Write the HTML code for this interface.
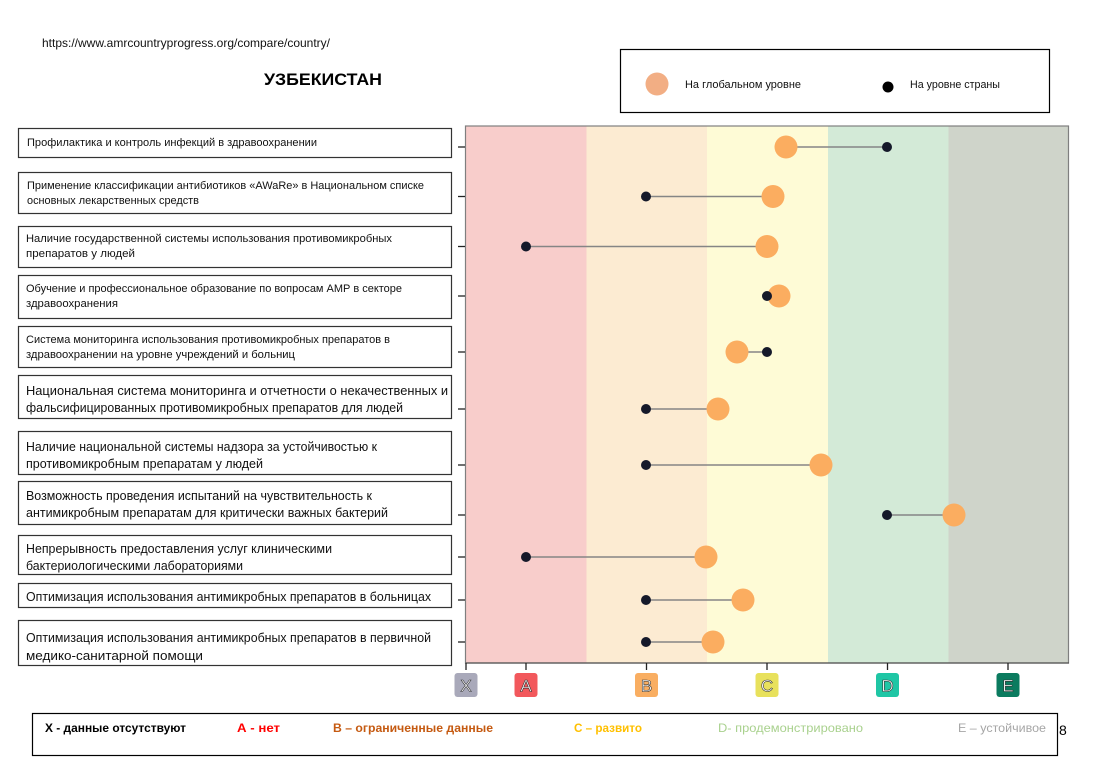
<!DOCTYPE html>
<html><head><meta charset="utf-8"><style>
html,body{margin:0;padding:0;background:#fff;}
svg{display:block;}
text{font-family:"Liberation Sans","DejaVu Sans",sans-serif;}
</style></head><body>
<svg width="1108" height="768" viewBox="0 0 1108 768" xmlns="http://www.w3.org/2000/svg">
<rect x="0" y="0" width="1108" height="768" fill="#fff"/>
<text x="42" y="47" font-size="12" fill="#111" textLength="288" lengthAdjust="spacingAndGlyphs">https://www.amrcountryprogress.org/compare/country/</text>
<text x="264" y="85" font-size="17" font-weight="bold" fill="#000" textLength="118" lengthAdjust="spacingAndGlyphs">УЗБЕКИСТАН</text>

<!-- top legend -->
<rect x="620.5" y="49.5" width="429" height="63" fill="#fff" stroke="#000" stroke-width="1.2"/>
<circle cx="657" cy="84" r="11.5" fill="#F2AE84"/>
<text x="685" y="88" font-size="11" fill="#111" textLength="116" lengthAdjust="spacingAndGlyphs">На глобальном уровне</text>
<circle cx="888" cy="87" r="5.5" fill="#000"/>
<text x="910" y="88" font-size="11" fill="#111" textLength="90" lengthAdjust="spacingAndGlyphs">На уровне страны</text>

<!-- bands -->
<rect x="466" y="126" width="120.5" height="537" fill="#F8CDCB"/>
<rect x="586.5" y="126" width="120.5" height="537" fill="#FCEBD2"/>
<rect x="707" y="126" width="121" height="537" fill="#FEFBD6"/>
<rect x="828" y="126" width="120.5" height="537" fill="#D3EAD7"/>
<rect x="948.5" y="126" width="120" height="537" fill="#CFD4CA"/>
<rect x="465.5" y="126" width="603" height="537" fill="none" stroke="#7f7f7f" stroke-width="1.2"/>
<line x1="465.5" y1="663" x2="1069" y2="663" stroke="#555" stroke-width="1.3"/>

<!-- y ticks -->
<g stroke="#222" stroke-width="1.3">
<line x1="458" y1="147" x2="465" y2="147"/>
<line x1="458" y1="196.5" x2="465" y2="196.5"/>
<line x1="458" y1="246.5" x2="465" y2="246.5"/>
<line x1="458" y1="296" x2="465" y2="296"/>
<line x1="458" y1="352" x2="465" y2="352"/>
<line x1="458" y1="409" x2="465" y2="409"/>
<line x1="458" y1="465" x2="465" y2="465"/>
<line x1="458" y1="515" x2="465" y2="515"/>
<line x1="458" y1="557" x2="465" y2="557"/>
<line x1="458" y1="600" x2="465" y2="600"/>
<line x1="458" y1="642" x2="465" y2="642"/>
</g>
<!-- x ticks -->
<g stroke="#222" stroke-width="1.3">
<line x1="466" y1="663" x2="466" y2="670"/>
<line x1="526" y1="663" x2="526" y2="670"/>
<line x1="646.5" y1="663" x2="646.5" y2="670"/>
<line x1="767" y1="663" x2="767" y2="670"/>
<line x1="887.5" y1="663" x2="887.5" y2="670"/>
<line x1="1008" y1="663" x2="1008" y2="670"/>
</g>

<!-- letter boxes -->
<g font-size="17" fill="#fff" stroke="#333" stroke-width="0.6" text-anchor="middle">
<rect x="454.5" y="673" width="23" height="24" rx="3" fill="#A9A9BA" stroke="none"/>
<text x="466" y="691.5">X</text>
<rect x="514.5" y="673" width="23" height="24" rx="3" fill="#F2585C" stroke="none"/>
<text x="526" y="691.5">A</text>
<rect x="635" y="673" width="23" height="24" rx="3" fill="#F9AE62" stroke="none"/>
<text x="646.5" y="691.5">B</text>
<rect x="755.5" y="673" width="23" height="24" rx="3" fill="#E8E15C" stroke="none"/>
<text x="767" y="691.5">C</text>
<rect x="876" y="673" width="23" height="24" rx="3" fill="#1FC6A5" stroke="none"/>
<text x="887.5" y="691.5">D</text>
<rect x="996.5" y="673" width="23" height="24" rx="3" fill="#0B7B5F" stroke="none"/>
<text x="1008" y="691.5">E</text>
</g>

<!-- data -->
<g stroke="#858585" stroke-width="1.5">
<line x1="786" y1="147" x2="887" y2="147"/>
<line x1="646" y1="196.5" x2="773" y2="196.5"/>
<line x1="526" y1="246.5" x2="767" y2="246.5"/>
<line x1="767" y1="296" x2="779" y2="296"/>
<line x1="737" y1="352" x2="767" y2="352"/>
<line x1="646" y1="409" x2="718" y2="409"/>
<line x1="646" y1="465" x2="821" y2="465"/>
<line x1="887" y1="515" x2="954" y2="515"/>
<line x1="526" y1="557" x2="706" y2="557"/>
<line x1="646" y1="600" x2="743" y2="600"/>
<line x1="646" y1="642" x2="713" y2="642"/>
</g>
<g fill="#FBAD60">
<circle cx="786" cy="147" r="11.5"/>
<circle cx="773" cy="196.5" r="11.5"/>
<circle cx="767" cy="246.5" r="11.5"/>
<circle cx="779" cy="296" r="11.5"/>
<circle cx="737" cy="352" r="11.5"/>
<circle cx="718" cy="409" r="11.5"/>
<circle cx="821" cy="465" r="11.5"/>
<circle cx="954" cy="515" r="11.5"/>
<circle cx="706" cy="557" r="11.5"/>
<circle cx="743" cy="600" r="11.5"/>
<circle cx="713" cy="642" r="11.5"/>
</g>
<g fill="#15192A">
<circle cx="887" cy="147" r="5"/>
<circle cx="646" cy="196.5" r="5"/>
<circle cx="526" cy="246.5" r="5"/>
<circle cx="767" cy="296" r="5"/>
<circle cx="767" cy="352" r="5"/>
<circle cx="646" cy="409" r="5"/>
<circle cx="646" cy="465" r="5"/>
<circle cx="887" cy="515" r="5"/>
<circle cx="526" cy="557" r="5"/>
<circle cx="646" cy="600" r="5"/>
<circle cx="646" cy="642" r="5"/>
</g>

<!-- label boxes -->
<g fill="#fff" stroke="#333" stroke-width="1.2">
<rect x="18.5" y="128.5" width="433" height="29"/>
<rect x="18.5" y="172.5" width="433" height="41"/>
<rect x="18.5" y="226.5" width="433" height="41"/>
<rect x="18.5" y="275.5" width="433" height="43"/>
<rect x="18.5" y="326.5" width="433" height="41"/>
<rect x="18.5" y="375.5" width="433" height="43"/>
<rect x="18.5" y="431.5" width="433" height="43"/>
<rect x="18.5" y="481.5" width="433" height="43"/>
<rect x="18.5" y="535.5" width="433" height="39"/>
<rect x="18.5" y="583.5" width="433" height="24"/>
<rect x="18.5" y="620.5" width="433" height="45"/>
</g>
<g fill="#111" font-size="11">
<text x="27" y="146" textLength="290" lengthAdjust="spacingAndGlyphs">Профилактика и контроль инфекций в здравоохранении</text>
<text x="27" y="189" textLength="397" lengthAdjust="spacingAndGlyphs">Применение классификации антибиотиков «AWaRe» в Национальном списке</text>
<text x="27" y="204" textLength="172" lengthAdjust="spacingAndGlyphs">основных лекарственных средств</text>
<text x="26" y="242" textLength="366" lengthAdjust="spacingAndGlyphs">Наличие государственной системы использования противомикробных</text>
<text x="26" y="257" textLength="109" lengthAdjust="spacingAndGlyphs">препаратов у людей</text>
<text x="26" y="292" textLength="376" lengthAdjust="spacingAndGlyphs">Обучение и профессиональное образование по вопросам АМР в секторе</text>
<text x="26" y="307" textLength="92" lengthAdjust="spacingAndGlyphs">здравоохранения</text>
<text x="26" y="343" textLength="364" lengthAdjust="spacingAndGlyphs">Система мониторинга использования противомикробных препаратов в</text>
<text x="26" y="358" textLength="269" lengthAdjust="spacingAndGlyphs">здравоохранении на уровне учреждений и больниц</text>
</g>
<g fill="#111" font-size="12.5">
<text x="26" y="395" textLength="422" lengthAdjust="spacingAndGlyphs">Национальная система мониторинга и отчетности о некачественных и</text>
<text x="26" y="412" textLength="377" lengthAdjust="spacingAndGlyphs">фальсифицированных противомикробных препаратов для людей</text>
<text x="26" y="451" textLength="351" lengthAdjust="spacingAndGlyphs">Наличие национальной системы надзора за устойчивостью к</text>
<text x="26" y="468" textLength="237" lengthAdjust="spacingAndGlyphs">противомикробным препаратам у людей</text>
<text x="26" y="500" textLength="346" lengthAdjust="spacingAndGlyphs">Возможность проведения испытаний на чувствительность к</text>
<text x="26" y="517" textLength="362" lengthAdjust="spacingAndGlyphs">антимикробным препаратам для критически важных бактерий</text>
<text x="26" y="553" textLength="306" lengthAdjust="spacingAndGlyphs">Непрерывность предоставления услуг клиническими</text>
<text x="26" y="570" textLength="217" lengthAdjust="spacingAndGlyphs">бактериологическими лабораториями</text>
<text x="26" y="601" textLength="405" lengthAdjust="spacingAndGlyphs">Оптимизация использования антимикробных препаратов в больницах</text>
<text x="26" y="642" textLength="405" lengthAdjust="spacingAndGlyphs">Оптимизация использования антимикробных препаратов в первичной</text>
<text x="26" y="660" textLength="177" lengthAdjust="spacingAndGlyphs">медико-санитарной помощи</text>
</g>

<!-- bottom legend -->
<rect x="32.5" y="713.5" width="1025" height="42" fill="#fff" stroke="#000" stroke-width="1.2"/>
<g font-size="12">
<text x="45" y="732" font-weight="bold" fill="#000" textLength="141" lengthAdjust="spacingAndGlyphs">X - данные отсутствуют</text>
<text x="237" y="732" font-weight="bold" fill="#FF0000" textLength="43" lengthAdjust="spacingAndGlyphs">А -  нет</text>
<text x="333" y="732" font-weight="bold" fill="#C55A11" textLength="160" lengthAdjust="spacingAndGlyphs">В – ограниченные данные</text>
<text x="574" y="732" font-weight="bold" fill="#FFC000" textLength="68" lengthAdjust="spacingAndGlyphs">С – развито</text>
<text x="718" y="732" fill="#A9D18E" textLength="145" lengthAdjust="spacingAndGlyphs">D- продемонстрировано</text>
<text x="958" y="732" fill="#A6A6A6" textLength="88" lengthAdjust="spacingAndGlyphs">Е – устойчивое</text>
</g>
<text x="1059" y="735" font-size="14" fill="#000">8</text>
</svg>
</body></html>
